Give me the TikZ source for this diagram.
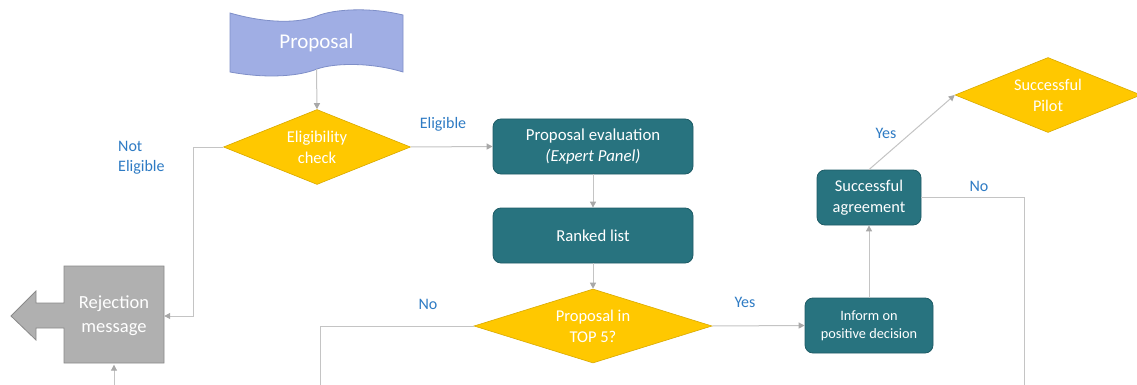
\documentclass[tikz,border=0pt]{standalone}
\usepackage{fontspec}
\setmainfont{Carlito}
\usetikzlibrary{shapes.geometric,arrows.meta}
\definecolor{tealbox}{HTML}{28737F}
\definecolor{tealedge}{HTML}{1E5C66}
\definecolor{gold}{HTML}{FFC800}
\definecolor{goldedge}{HTML}{D9AA00}
\definecolor{periw}{HTML}{A0AEE4}
\definecolor{periwedge}{HTML}{7F8FC8}
\definecolor{rejfill}{HTML}{B0B0B0}
\definecolor{rejedge}{HTML}{8A8A8A}
\definecolor{lblblue}{HTML}{2E7BC4}
\definecolor{linegray}{HTML}{C4C4C4}
\definecolor{tipgray}{HTML}{A8A8A8}
\begin{document}
\begin{tikzpicture}[x=1pt,y=-1pt,
  tealnode/.style={draw=tealedge,fill=tealbox,rounded corners=8pt,text=white,align=center,inner sep=0pt,line width=0.8pt},
  decision/.style={diamond,draw=goldedge,fill=gold,text=white,align=center,inner sep=0pt,line width=0.6pt},
  lbl/.style={text=lblblue,font=\fontsize{16}{20}\selectfont,inner sep=0pt,align=left},
  conn/.style={draw=linegray,line width=1pt},
  arr/.style={conn,-{Triangle[width=6pt,length=6pt,fill=tipgray,color=tipgray]}},
  mid/.style={font=\fontsize{16.5}{21}\selectfont}
]
\useasboundingbox (0,0) rectangle (1137,385);
\fill[white] (0,0) rectangle (1137,385);

% Proposal (wave shape)
\filldraw[fill=periw,draw=periwedge,line width=0.8pt]
  (230,13) .. controls (268,24) and (300,23) .. (317,16)
  .. controls (334,9) and (370,7) .. (403,15)
  -- (403,72)
  .. controls (370,62) and (334,63) .. (317,69)
  .. controls (300,76) and (268,79) .. (230,72) -- cycle;
\node[inner sep=0pt,minimum width=173pt,minimum height=53pt,text=white,font=\fontsize{21}{25}\selectfont] (prop) at (316.5,42.5) {Proposal};

% Rejection message (left arrow shape)
\filldraw[fill=rejfill,draw=rejedge,line width=0.8pt]
  (64,266) -- (164,266) -- (164,363) -- (64,363) -- (64,328) -- (36,328) -- (36,340)
  -- (11,316) -- (36,291) -- (36,303) -- (64,303) -- cycle;
\node[inner sep=0pt,minimum width=100pt,minimum height=97pt,text=white,align=center,font=\fontsize{18.5}{24}\selectfont] (rej) at (114,316) {Rejection\\message};

% Decisions
\node[decision,minimum width=187pt,minimum height=75pt,aspect=2.5,mid] (elig) at (317,147) {Eligibility\\check};
\node[decision,minimum width=238pt,minimum height=74pt,aspect=3.2,mid] (top5) at (593,326) {Proposal in\\TOP 5?};
\node[decision,minimum width=186pt,minimum height=75pt,aspect=2.5,font=\fontsize{16.3}{21}\selectfont] (pilot) at (1048,95) {Successful\\Pilot};

% Process boxes
\node[tealnode,minimum width=200pt,minimum height=55pt,font=\fontsize{16.8}{21}\selectfont] (eval) at (593,146.5) {Proposal evaluation\\\textit{(Expert Panel)}};
\node[tealnode,minimum width=200pt,minimum height=55pt,font=\fontsize{16.7}{21}\selectfont] (rank) at (593,235.5) {Ranked list};
\node[tealnode,minimum width=128pt,minimum height=55pt,font=\fontsize{14.3}{18}\selectfont] (inform) at (869,325.5) {Inform on\\positive decision};
\node[tealnode,minimum width=104pt,minimum height=55pt,font=\fontsize{16.4}{21}\selectfont] (agree) at (869,197.5) {Successful\\agreement};

% Free ends
\coordinate (rejin) at (114,386);
\coordinate (noend) at (320,386);
\coordinate (noend2) at (1024,386);

% Connectors
\draw[arr] (prop.south) -- (elig.north);
\draw[arr] (elig.east) -- (eval.west);
\draw[arr] (elig.west) -- ++(-30,0) |- (rej.east);
\draw[arr] (rejin) -- (rej.south);
\draw[arr] (eval.south) -- (rank.north);
\draw[arr] (rank.south) -- (top5.north);
\draw[arr] (top5.east) -- (inform.west);
\draw[conn] (top5.west) -| (noend);
\draw[arr] (inform.north) -- (agree.south);
\draw[arr] (agree.north) -- (pilot.west);
\draw[conn] (agree.east) -| (noend2);

% Labels
\node[lbl] (leli) at (443,124) {Eligible};
\node[lbl,anchor=west] (lnot) at (118,157.5) {Not\\Eligible};
\node[lbl] (lno1) at (428,304) {No};
\node[lbl] (lyes1) at (745,302) {Yes};
\node[lbl] (lyes2) at (886,133) {Yes};
\node[lbl] (lno2) at (979,186) {No};
\end{tikzpicture}
\end{document}
